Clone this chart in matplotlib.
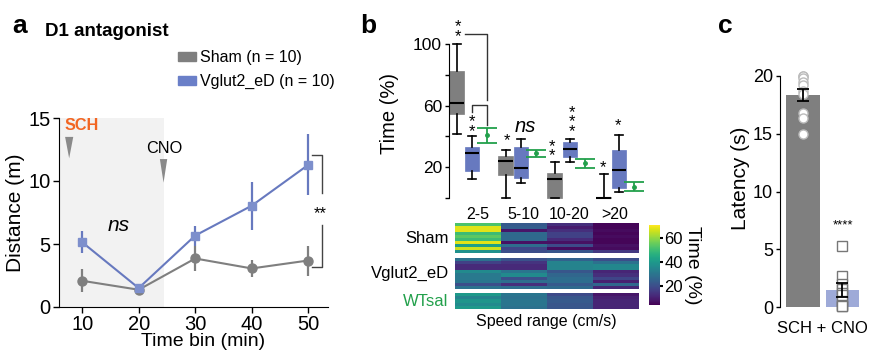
import matplotlib
matplotlib.use('Agg')
import matplotlib.pyplot as plt
from matplotlib.patches import Patch, Polygon
import numpy as np

plt.rcParams['font.family'] = ['Liberation Sans', 'DejaVu Sans']

# ---- panel a: distance per time bin ----
time_bins = [10, 20, 30, 40, 50]
sham_dist = [2.08, 1.37, 3.85, 3.06, 3.69]
sham_err = [0.90, 0.35, 0.98, 0.66, 1.19]
vglut_dist = [5.14, 1.50, 5.67, 8.04, 11.28]
vglut_err = [0.89, 0.30, 0.79, 1.91, 2.42]

# ---- panel b: time in speed ranges ----
speed_bins = ['2-5', '5-10', '10-20', '>20']
sham_whislo = [41.7, 0.0, 0.0, 0.0]
sham_q1 = [54.7, 15.0, 0.0, 0.0]
sham_med = [61.8, 24.3, 12.4, 0.2]
sham_q3 = [82.2, 27.0, 16.3, 0.6]
sham_whishi = [99.8, 31.0, 23.5, 15.9]
vglut_whislo = [12.4, 9.6, 23.7, 4.2]
vglut_q1 = [17.4, 13.0, 26.5, 6.3]
vglut_med = [29.5, 19.6, 31.7, 18.3]
vglut_q3 = [33.4, 33.4, 36.5, 31.3]
vglut_whishi = [40.4, 38.2, 38.6, 41.2]
wtsal_mean = [40.6, 28.9, 22.6, 7.3]
wtsal_err = [4.8, 2.4, 3.0, 2.9]

# heatmaps (rows = animals, cols = speed bins)
sham_heat = [[52, 23, 13, 5],
             [68, 24, 9, 5],
             [68, 8, 13, 6],
             [50, 27, 17, 5],
             [54, 27, 17, 6],
             [50, 27, 12, 5],
             [68, 7, 7, 5],
             [42, 28, 19, 7],
             [66, 18, 6, 6],
             [38, 20, 22, 15]]
vglut_heat = [[29, 21, 25, 20],
              [17, 14, 34, 29],
              [12, 12, 34, 35],
              [12, 12, 34, 35],
              [36, 30, 22, 11],
              [31, 36, 26, 13],
              [31, 20, 28, 18],
              [30, 28, 28, 10],
              [20, 13, 23, 26],
              [29, 28, 27, 11]]
wtsal_heat = [[40, 30, 19, 8],
              [34, 29, 22, 10],
              [39, 30, 23, 11],
              [36, 30, 22, 11],
              [40, 29, 22, 11]]

# ---- panel c: latency ----
sch_latency = [20.0, 20.0, 19.8, 19.5, 19.2, 18.7, 18.4, 16.8, 16.4, 15.0]
cno_latency = [5.3, 2.7, 2.0, 1.6, 1.2, 1.0, 0.5, 0.2, 0.1, 0.1]
bar_means = [18.35, 1.47]
bar_sems = [0.5, 0.57]

GRAY = '#7f7f7f'
BLUE = '#6779bf'
GREEN = '#22a04b'
W, H = 872, 355

fig = plt.figure(figsize=(W / 100, H / 100), dpi=100)


def px_axes(l, t, r, b):
    return fig.add_axes([l / W, 1 - b / H, (r - l) / W, (b - t) / H])


# ================= a =================
ax = px_axes(59, 118, 328, 307)
ax.axvspan(5.9, 24.5, color='#f2f2f2', zorder=0, lw=0)
ax.errorbar(time_bins, sham_dist, yerr=sham_err, color=GRAY, lw=1.5,
            marker='o', ms=6.5, elinewidth=1.6, capsize=0, zorder=3)
ax.errorbar(time_bins, vglut_dist, yerr=vglut_err, color=BLUE, lw=1.5,
            marker='s', ms=6, mfc='#7d8fcc', mec='#7d8fcc', elinewidth=1.6,
            capsize=0, zorder=4)
ax.set_xlim(5.9, 53.5)
ax.set_ylim(0, 15)
ax.set_xticks(time_bins)
ax.set_yticks([0, 5, 10, 15])
for s in ['top', 'right']:
    ax.spines[s].set_visible(False)
ax.tick_params(labelsize=14.5, length=4, width=1, pad=2)
ax.set_xlabel('Time bin (min)', fontsize=14)
ax.set_ylabel('Distance (m)', fontsize=15)
ax.xaxis.set_label_coords(0.535, -0.138)
ax.yaxis.set_label_coords(-0.127, 0.5)

# injection markers
ax.add_patch(Polygon([(6.98, 13.5), (8.42, 13.5), (7.7, 11.8)], closed=True,
                     color='#8a8a8a', clip_on=False, lw=0))
ax.text(6.9, 14.37, 'SCH', color='#f26522', fontsize=11.7, fontweight='bold',
        ha='left', va='center')
ax.add_patch(Polygon([(23.75, 11.74), (25.05, 11.74), (24.4, 9.87)], closed=True,
                     color='#8a8a8a', clip_on=False, lw=0))
ax.text(24.5, 12.54, 'CNO', fontsize=11.7, ha='center', va='center')
ax.text(16.5, 6.5, 'ns', fontsize=15, style='italic', ha='center', va='center')

# significance bracket
bk = '#444444'
ax.plot([50.7, 52.45, 52.45], [12.06, 12.06, 9.05], color=bk, lw=1, clip_on=False)
ax.plot([52.45, 52.45, 50.7], [6.5, 3.17, 3.17], color=bk, lw=1, clip_on=False)
ax.text(52.1, 7.45, '**', fontsize=12, ha='center', va='center')

handles = [Patch(color=GRAY, label='Sham (n = 10)'),
           Patch(color='#6a7fc8', label='Vglut2_eD (n = 10)')]
fig.legend(handles=handles, loc='upper left', bbox_to_anchor=(178 / W, 1 - 50 / H),
           frameon=False, fontsize=11.5, handlelength=1.15, handleheight=0.55,
           handletextpad=0.25, labelspacing=0.58, borderpad=0, borderaxespad=0)

fig.text(12 / W, 1 - 33 / H, 'a', fontsize=19, fontweight='bold', va='baseline')
fig.text(45 / W, 1 - 36 / H, 'D1 antagonist', fontsize=13.5, fontweight='bold',
         va='baseline')

# ================= b =================
bx = px_axes(449, 44, 645, 198)
groups = np.arange(len(speed_bins))
sham_stats = [dict(whislo=a, q1=b, med=c, q3=d, whishi=e) for a, b, c, d, e in
              zip(sham_whislo, sham_q1, sham_med, sham_q3, sham_whishi)]
vglut_stats = [dict(whislo=a, q1=b, med=c, q3=d, whishi=e) for a, b, c, d, e in
               zip(vglut_whislo, vglut_q1, vglut_med, vglut_q3, vglut_whishi)]
for stats, off, col in [(sham_stats, 0.16, GRAY), (vglut_stats, 0.47, BLUE)]:
    bx.bxp(stats, positions=groups + off, widths=0.3, capwidths=0.15,
           patch_artist=True, showfliers=False, manage_ticks=False,
           boxprops=dict(facecolor=col, edgecolor=col, lw=0.5),
           medianprops=dict(color='black', lw=1.5, solid_capstyle='butt'),
           whiskerprops=dict(color='black', lw=1.2),
           capprops=dict(color='black', lw=1.2))
for artist in bx.get_children():
    if hasattr(artist, 'set_clip_on'):
        artist.set_clip_on(False)
bx.errorbar(groups + 0.77, wtsal_mean, yerr=wtsal_err, fmt='o', ms=2.5,
            color=GREEN, capsize=7, elinewidth=1.3, capthick=1.3, clip_on=False)
bx.set_xlim(0, 4)
bx.set_ylim(0, 100)
bx.set_yticks([0, 20, 40, 60, 80, 100])
bx.set_yticklabels(['', '20', '', '60', '', '100'])
bx.set_xticks([])
for s in ['top', 'right', 'bottom']:
    bx.spines[s].set_visible(False)
bx.tick_params(axis='y', labelsize=12.5, length=3, width=1, pad=2)
bx.set_ylabel('Time (%)', fontsize=14.5)
bx.yaxis.set_label_coords(-0.255, 0.55)

bk = '#333333'
bx.plot([0.33, 0.78, 0.78], [106.5, 106.5, 63.6], color=bk, lw=1, clip_on=False)
bx.plot([0.47, 0.47, 0.78, 0.78], [55.8, 60.3, 60.3, 47.3], color=bk, lw=1,
        clip_on=False)
stars = [(0.18, 108, '*\n*'), (0.46, 46.5, '*\n*'), (1.18, 37.5, '*'),
         (2.1, 30.5, '*\n*'), (2.51, 49.5, '*\n*\n*'), (3.15, 20, '*'),
         (3.45, 46.7, '*')]
for x, y, s in stars:
    bx.text(x, y, s, fontsize=12, ha='center', va='center', linespacing=0.55,
            clip_on=False)
bx.text(1.56, 46.3, 'ns', fontsize=14.5, style='italic', ha='center', va='center')

fig.text(360 / W, 1 - 33 / H, 'b', fontsize=19, fontweight='bold', va='baseline')

# heatmaps
heat_kw = dict(aspect='auto', cmap='viridis', vmin=4, vmax=71,
               interpolation='nearest')
h1 = px_axes(455, 223, 638, 253)
im = h1.imshow(sham_heat, **heat_kw)
h2 = px_axes(455, 258, 638, 289)
h2.imshow(vglut_heat, **heat_kw)
h3 = px_axes(455, 293, 638, 309)
h3.imshow(wtsal_heat, **heat_kw)
for h in (h1, h2, h3):
    h.set_xticks([])
    h.set_yticks([])
    for s in h.spines.values():
        s.set_visible(False)
h1.xaxis.set_ticks_position('top')
h1.set_xticks(range(len(speed_bins)))
h1.set_xticklabels(speed_bins, fontsize=11.5)
h1.tick_params(axis='x', length=0, pad=1)
for h, lab, col in [(h1, 'Sham', 'black'), (h2, 'Vglut2_eD', 'black'),
                    (h3, 'WTsal', GREEN)]:
    h.text(-0.035, 0.5, lab, transform=h.transAxes, fontsize=12, color=col,
           ha='right', va='center')
h3.text(0.5, -0.3, 'Speed range (cm/s)', transform=h3.transAxes, fontsize=11.5,
        ha='center', va='top')

cax = px_axes(649, 225, 660, 305)
cb = fig.colorbar(im, cax=cax)
cb.outline.set_visible(False)
cb.set_ticks([20, 40, 60])
cb.ax.tick_params(labelsize=12, length=2, width=1.5, pad=1)
cb.set_label('Time (%)', fontsize=14, rotation=270, labelpad=13)

# ================= c =================
cx = px_axes(780, 76, 865, 307)
cx.bar([0, 1], bar_means, width=0.86, color=[GRAY, '#9eaad8'], zorder=1)
cx.plot(np.zeros(len(sch_latency)), sch_latency, 'o', ms=6.5, mfc='white',
        mec='#bbbbbb', mew=1, zorder=2, clip_on=False)
cx.plot(np.ones(len(cno_latency)), cno_latency, 's', ms=6.5, mfc='white',
        mec='#777777', mew=1, zorder=2, clip_on=False)
cx.errorbar([0, 1], bar_means, yerr=bar_sems, fmt='none', ecolor='black',
            elinewidth=1.3, capsize=4, capthick=1.3, zorder=3)
cx.set_xlim(-0.582, 1.57)
cx.set_ylim(0, 20)
cx.set_yticks([0, 5, 10, 15, 20])
cx.set_xticks([])
for s in ['top', 'right', 'bottom']:
    cx.spines[s].set_visible(False)
cx.tick_params(axis='y', labelsize=13, length=3, width=1, pad=2)
cx.set_ylabel('Latency (s)', fontsize=15)
cx.yaxis.set_label_coords(-0.35, 0.558)
cx.text(1, 7.1, '****', fontsize=9.5, ha='center', va='center')
cx.text(0.5, -0.06, 'SCH + CNO', transform=cx.transAxes, fontsize=12,
        ha='center', va='top')

fig.text(718 / W, 1 - 33 / H, 'c', fontsize=19, fontweight='bold', va='baseline')

fig.savefig('out.png', dpi=100)
